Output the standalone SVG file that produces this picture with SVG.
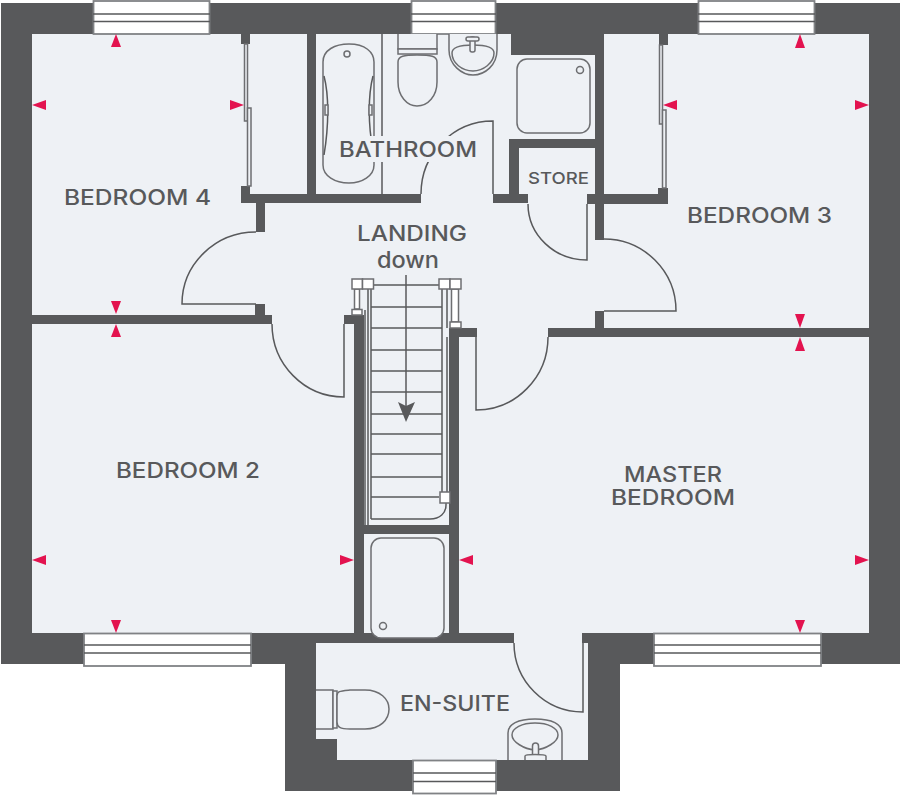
<svg xmlns="http://www.w3.org/2000/svg" width="900" height="795" viewBox="0 0 900 795">
<style>
.wall{fill:#58595b}
.floor{fill:#eef1f5}
.ln{fill:none;stroke:#58595b;stroke-width:1.5}
.fx{fill:#eef1f5;stroke:#6d6e71;stroke-width:1.5}
.win{fill:#fff;stroke:#808285;stroke-width:1.8}
.nw{fill:#fff;stroke:#6d6e71;stroke-width:1.5}
.mk{fill:#e3134f}
text{font-family:"Inter","Open Sans","Liberation Sans",sans-serif;fill:#58595b;font-size:21px;font-weight:500}
</style>
<rect width="900" height="795" fill="#fff"/>
<g id="walls">
<path class="wall" d="M1 3H900V664H620V791H285V664H1Z"/>
<path class="floor" d="M32 34H869V633H588V760H337V739H316V633H32Z"/>
<rect class="wall" x="241" y="34" width="9" height="10"/>
<rect class="wall" x="241" y="186" width="9" height="8"/>
<rect class="wall" x="241" y="194" width="180" height="9"/>
<rect class="wall" x="307" y="34" width="9" height="160"/>
<rect class="wall" x="493" y="194" width="35" height="9"/>
<rect class="wall" x="509" y="139" width="86" height="9"/>
<rect class="wall" x="509" y="139" width="10" height="55"/>
<rect class="wall" x="511" y="34" width="93" height="21"/>
<rect class="wall" x="595" y="34" width="9" height="206"/>
<rect class="wall" x="587" y="194" width="81" height="10"/>
<rect class="wall" x="659" y="34" width="9" height="11"/>
<rect class="wall" x="658" y="188" width="10" height="6"/>
<rect class="wall" x="256" y="203" width="9" height="29"/>
<rect class="wall" x="255" y="304" width="10" height="11"/>
<rect class="wall" x="32" y="315" width="240" height="9"/>
<rect class="wall" x="344" y="315" width="20" height="9"/>
<rect class="wall" x="354" y="315" width="10" height="318"/>
<rect class="wall" x="449" y="328" width="28" height="9"/>
<rect class="wall" x="449" y="328" width="10" height="305"/>
<rect class="wall" x="354" y="525" width="105" height="9"/>
<rect class="wall" x="595" y="311" width="9" height="17"/>
<rect class="wall" x="548" y="328" width="321" height="9"/>
<rect class="wall" x="316" y="633" width="198" height="10"/>
<rect class="wall" x="582" y="633" width="6" height="10"/>
</g>
<g id="windows">
<rect class="win" x="93.500" y="1" width="116" height="33"/><path class="ln" d="M93 14H210M93 21.500H210"/>
<rect class="win" x="411.500" y="1" width="84" height="33"/><path class="ln" d="M411 14H496M411 21.500H496"/>
<rect class="win" x="698.500" y="1" width="116" height="33"/><path class="ln" d="M698 14H815M698 21.500H815"/>
<rect class="win" x="84" y="633.500" width="167" height="32.500"/><path class="ln" d="M84 645H251M84 653H251"/>
<rect class="win" x="654" y="633.500" width="167" height="32.500"/><path class="ln" d="M654 645H821M654 653H821"/>
<rect class="win" x="413" y="760.500" width="83" height="33"/><path class="ln" d="M413 773H496M413 781.500H496"/>
</g>
<g id="wardrobes">
<path class="ln" d="M382 34V194"/>
<rect class="fx" x="244.500" y="44" width="3" height="77"/>
<rect class="fx" x="247.500" y="108" width="3.500" height="78"/>
<rect class="fx" x="659.500" y="45" width="3" height="79"/>
<rect class="fx" x="662.500" y="110" width="3.500" height="78"/>
</g>
<g id="bathroom-fittings">
<path class="fx" d="M323 62C323 50 335 44 349 44C365 44 374 52 374 62V165C374 176 362 183 349 183C335 183 323 176 323 165Z"/>
<path class="ln" d="M324 76C329 95 329 125 324 155M373 76C368 95 368 125 373 150"/>
<rect class="fx" x="325" y="105" width="3" height="10"/>
<rect class="fx" x="369" y="105" width="3" height="10"/>
<circle class="fx" cx="347" cy="54" r="3"/>
<path class="fx" d="M398 34V49H437V34"/>
<path class="fx" d="M398 49H437V54H398Z"/>
<path class="fx" d="M398 62C398 56 404 55 417 55C431 55 437 56 437 62V82C437 96 428 106 417 106C407 106 398 96 398 82Z"/>
<path class="fx" d="M449 34V50C449 65 462 75 473 75C485 75 497 65 497 50V34"/>
<path class="fx" d="M452 53C452 47 462 45 473 45C485 45 494 47 494 53C494 63 483 71 473 71C462 71 452 63 452 53Z"/>
<rect class="fx" x="470" y="37" width="5" height="15" rx="2"/>
<rect class="fx" x="466" y="37" width="13" height="4" rx="2"/>
<rect class="fx" x="517" y="59" width="73" height="74" rx="10"/>
<circle class="fx" cx="580" cy="70" r="3.500"/>
</g>
<g id="doors">
<path class="ln" d="M493 194V121A72 73 0 0 0 421 194"/>
<path class="ln" d="M587 204V260A59 56 0 0 1 528 204"/>
<path class="ln" d="M604 239A72 72 0 0 1 676 311H604"/>
<path class="ln" d="M548 337A72 73 0 0 1 476 410V337"/>
<path class="ln" d="M256 232A74 72 0 0 0 182 304H256"/>
<path class="ln" d="M272 324A72 73 0 0 0 344 397V324"/>
<path class="ln" d="M514 643A69 69 0 0 0 583 712V643"/>
</g>
<g id="stairs">
<path class="ln" d="M365 310V525M368 285V525M371 285V519M442 289V492M447 289V328M447 337V492"/>
<path class="ln" d="M374 285H439M371 307H442M371 328H442M371 350H442M371 371H442M371 392H442M371 414H442M371 434H442M371 454H442M371 477H442M371 497H439"/>
<path class="ln" d="M446 503V505C446 513 440 519 430 519H371"/>
<rect class="nw" x="354.500" y="289" width="5" height="20"/>
<rect class="nw" x="451.500" y="289" width="7" height="33"/>
<rect class="nw" x="352" y="279" width="10.500" height="10"/>
<rect class="nw" x="362.500" y="279" width="11" height="10"/>
<rect class="nw" x="439" y="279" width="11" height="10"/>
<rect class="nw" x="450" y="279" width="11" height="10"/>
<rect class="nw" x="352" y="309.500" width="10" height="5.500"/>
<rect class="nw" x="450" y="322" width="11" height="6"/>
<rect class="nw" x="440" y="492" width="10" height="11"/>
<path class="ln" d="M406 275V410"/>
<path class="wall" d="M398 402L406 406L415 402L406 422Z"/>
</g>
<g id="ensuite-fittings">
<rect class="fx" x="371" y="538" width="73" height="100" rx="10"/>
<circle class="fx" cx="383" cy="626" r="3.500"/>
<path class="fx" d="M316 690H333V729H316"/>
<rect class="fx" x="333" y="691" width="4" height="37"/>
<path class="fx" d="M337 696C337 691 340 691 350 690H365C380 690 389 699 389 709C389 720 380 729 365 729H350C340 729 337 727 337 722Z"/>
<path class="fx" d="M508 760V733C508 724 518 719 535 719C552 719 562 724 562 733V760"/>
<path class="fx" d="M512 735C512 728 522 723 535 723C548 723 558 728 558 735C558 742 546 749 535 750C524 749 512 742 512 735Z"/>
<rect class="fx" x="532.500" y="743" width="6" height="15" rx="3"/>
<path class="fx" d="M525 760V756C525 754 545 754 546 756V760"/>
</g>
<g id="dimension-markers">
<path class="mk" d="M116 34L121 47H111Z"/>
<path class="mk" d="M32 105L46 100V110Z"/>
<path class="mk" d="M244 105L230 100V110Z"/>
<path class="mk" d="M116 314L121 301H111Z"/>
<path class="mk" d="M116 324L121 337H111Z"/>
<path class="mk" d="M32 560L46 555V565Z"/>
<path class="mk" d="M354 560L340 555V565Z"/>
<path class="mk" d="M116 633L121 620H111Z"/>
<path class="mk" d="M800 34L805 48H795Z"/>
<path class="mk" d="M663 105L677 100V110Z"/>
<path class="mk" d="M869 105L855 100V110Z"/>
<path class="mk" d="M800 328L805 314H795Z"/>
<path class="mk" d="M800 337L805 351H795Z"/>
<path class="mk" d="M459 560L473 555V565Z"/>
<path class="mk" d="M869 560L855 555V565Z"/>
<path class="mk" d="M800 633L805 620H795Z"/>
</g>
<g id="labels">
<rect class="floor" x="338" y="136" width="140" height="26"/>
<text x="64" y="205" textLength="147" lengthAdjust="spacingAndGlyphs">BEDROOM 4</text>
<text x="687" y="223" textLength="145" lengthAdjust="spacingAndGlyphs">BEDROOM 3</text>
<text x="116" y="478" textLength="144" lengthAdjust="spacingAndGlyphs">BEDROOM 2</text>
<text x="339" y="157" textLength="138" lengthAdjust="spacingAndGlyphs">BATHROOM</text>
<text x="357" y="241" textLength="110" lengthAdjust="spacingAndGlyphs">LANDING</text>
<text x="377" y="268" textLength="62" lengthAdjust="spacingAndGlyphs" style="font-size:22.500px">down</text>
<text x="528" y="184" textLength="61" lengthAdjust="spacingAndGlyphs" style="font-size:16.500px">STORE</text>
<text x="624" y="482" textLength="98" lengthAdjust="spacingAndGlyphs">MASTER</text>
<text x="611" y="505" textLength="124" lengthAdjust="spacingAndGlyphs">BEDROOM</text>
<text x="400" y="711" textLength="110" lengthAdjust="spacingAndGlyphs">EN-SUITE</text>
</g>
</svg>
